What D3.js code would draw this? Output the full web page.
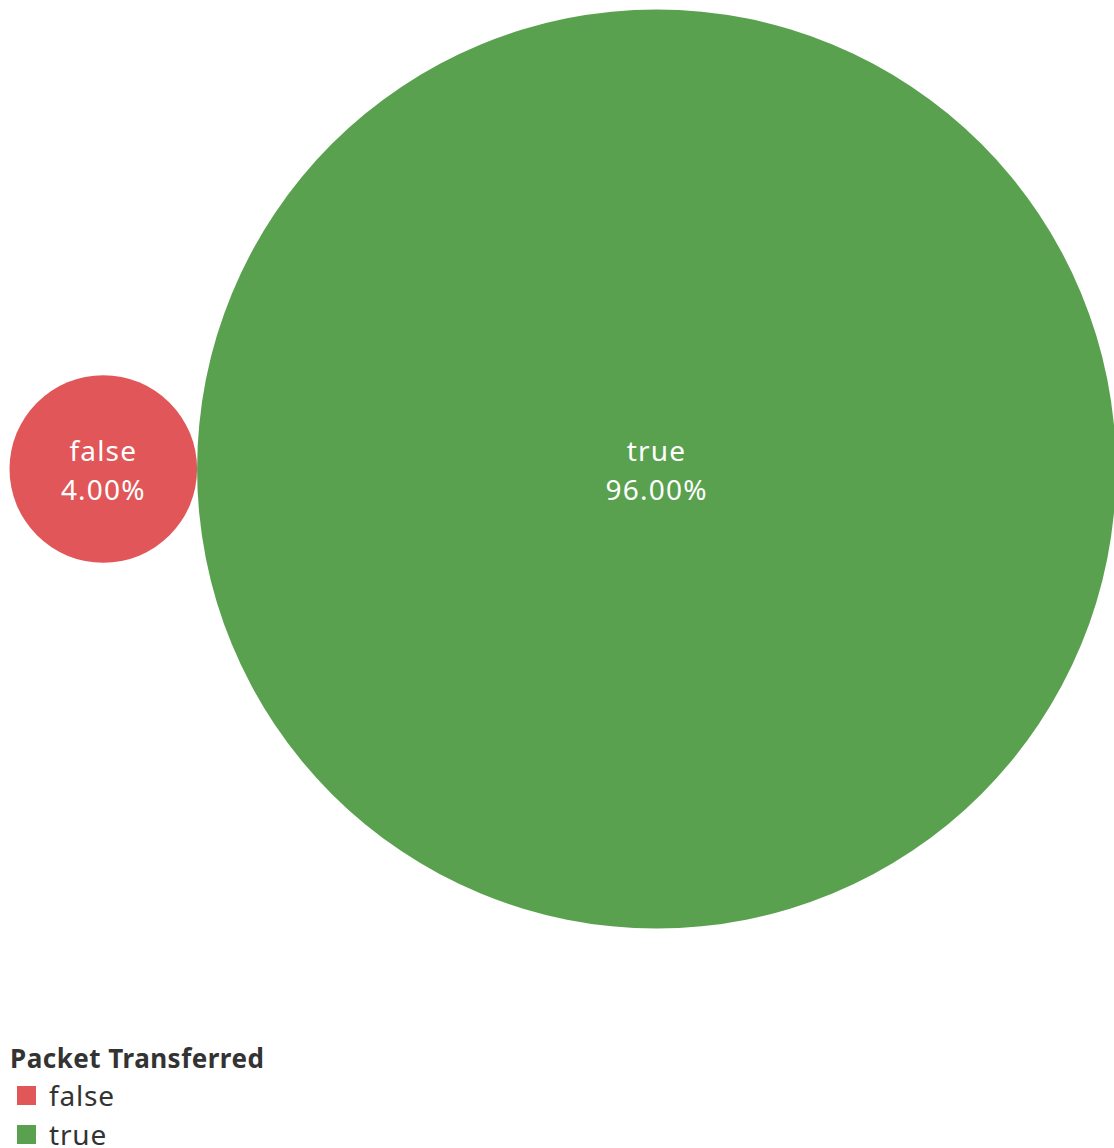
<!DOCTYPE html>
<html>
<head>
<meta charset="utf-8">
<script src="https://cdn.jsdelivr.net/npm/d3@7"></script>
<style>
  html, body { margin: 0; padding: 0; background: #fff; }
  svg { display: block; }
</style>
</head>
<body>
<svg id="chart" width="1114" height="1148"></svg>
<script>
// Share of packets by transfer status
const categories = ["false", "true"];
const shares = [4.00, 96.00];
const colors = ["#e15759", "#59a14f"];
const legendTitle = "Packet Transferred";

const svg = d3.select("#chart");
const font = "'Noto Sans', 'Open Sans', sans-serif";

// Circle area proportional to share
const r = d3.scaleSqrt().domain([0, d3.max(shares)]).range([0, 459.5]);

// Lay circles out left to right, touching, vertically centred
const cy = 469;
let x = 9.5;
const nodes = categories.map((c, i) => {
  const rad = r(shares[i]);
  const node = { cat: c, value: shares[i], color: colors[i], r: rad, cx: x + rad };
  x += 2 * rad;
  return node;
});

const g = svg.append("g");
const bubbles = g.selectAll("g.bubble").data(nodes).join("g").attr("class", "bubble");

bubbles.append("circle")
  .attr("cx", d => d.cx)
  .attr("cy", cy)
  .attr("r", d => d.r)
  .attr("fill", d => d.color);

bubbles.append("text")
  .attr("x", d => d.cx)
  .attr("y", cy - 8)
  .attr("text-anchor", "middle")
  .attr("font-family", font)
  .attr("font-size", 28)
  .attr("letter-spacing", 1.2)
  .attr("fill", "#fff")
  .text(d => d.cat);

bubbles.append("text")
  .attr("x", d => d.cx)
  .attr("y", cy + 31)
  .attr("text-anchor", "middle")
  .attr("font-family", font)
  .attr("font-size", 28)
  .attr("letter-spacing", 1.2)
  .attr("fill", "#fff")
  .text(d => d3.format(".2f")(d.value) + "%");

// Legend
const legend = svg.append("g").attr("transform", "translate(10,1068)");
legend.append("text")
  .attr("x", 0).attr("y", 0)
  .attr("font-family", font)
  .attr("font-weight", "bold")
  .attr("font-size", 26)
  .attr("letter-spacing", 0.5)
  .attr("fill", "#333")
  .text(legendTitle);

const items = legend.selectAll("g.item").data(categories).join("g")
  .attr("class", "item")
  .attr("transform", (d, i) => `translate(0,${38 + i * 39})`);
items.append("rect")
  .attr("x", 7).attr("y", -20)
  .attr("width", 19).attr("height", 19)
  .attr("fill", (d, i) => colors[i]);
items.append("text")
  .attr("x", 39).attr("y", 0)
  .attr("font-family", font)
  .attr("font-size", 28)
  .attr("letter-spacing", 0.8)
  .attr("fill", "#333")
  .text(d => d);
</script>
</body>
</html>
